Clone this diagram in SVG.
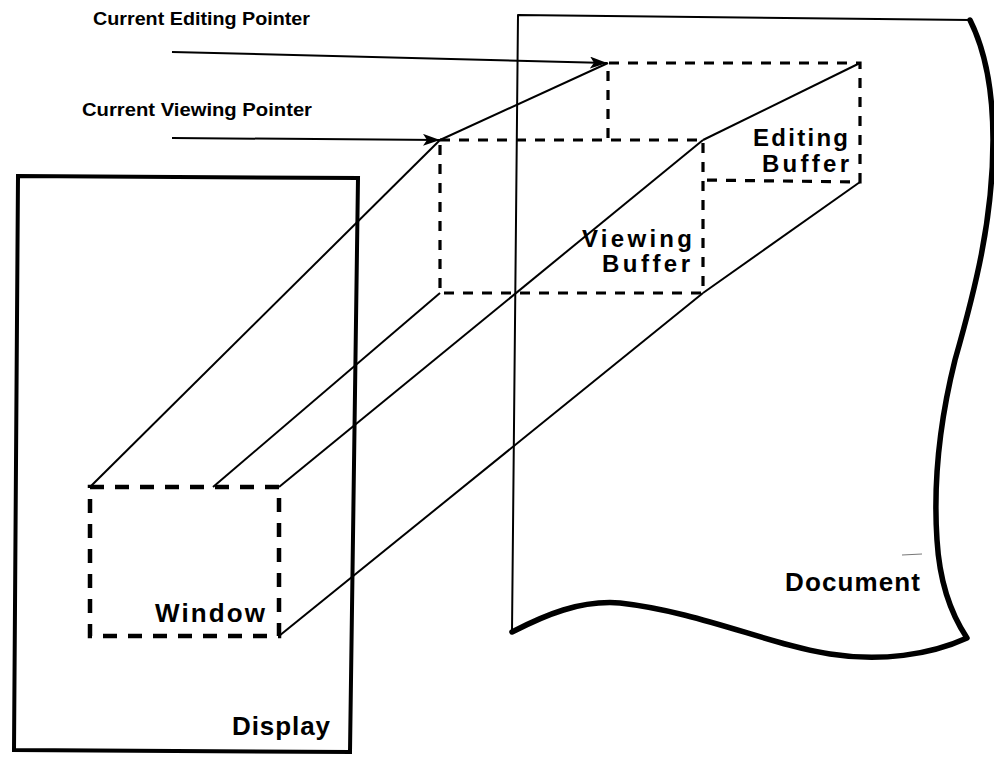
<svg xmlns="http://www.w3.org/2000/svg" width="994" height="759" viewBox="0 0 994 759">
  <style>
    .bg { fill: #ffffff; }
    .edge { fill: none; stroke: #000; stroke-linecap: round; stroke-linejoin: round; }
    .frame { fill: none; stroke: #000; stroke-width: 4; stroke-linejoin: miter; }
    .win { fill: none; stroke: #000; stroke-width: 4.5; stroke-dasharray: 14 11; }
    .buf { fill: none; stroke: #000; stroke-width: 3.2; stroke-dasharray: 10 9; }
    .ray { fill: none; stroke: #000; stroke-width: 2; }
    .label { font-family: "Liberation Sans", Arial, sans-serif; font-weight: bold; fill: #000; font-size: 26px; }
    .label2 { font-family: "Liberation Sans", Arial, sans-serif; font-weight: bold; fill: #000; font-size: 24px; }
    .ptr { font-family: "Liberation Sans", Arial, sans-serif; font-weight: bold; fill: #000; font-size: 18px; }
  </style>
  <defs>
    <marker id="head" markerUnits="userSpaceOnUse" markerWidth="18" markerHeight="12" refX="17" refY="6" orient="auto">
      <path d="M0,0 L17,6 L0,12 L4,6 Z" fill="#000"/>
    </marker>
  </defs>

  <rect class="bg" x="0" y="0" width="994" height="759"/>

  <!-- Document sheet with torn right and bottom edges -->
  <g id="document">
    <path class="edge" stroke-width="2" fill="#fff"
          d="M512,632 L518,15 L970,20 C985,50 993,90 993,140 C993,220 975,290 955,360 C940,420 933,480 937,540 C940,590 955,620 967,638 C930,655 880,662 830,654 C770,645 700,612 620,603 C580,600 545,615 512,632 Z"/>
    <path class="edge" stroke-width="5.5"
          d="M970,20 C985,50 993,90 993,140 C993,220 975,290 955,360 C940,420 933,480 937,540 C940,590 955,620 967,638 C930,655 880,662 830,654 C770,645 700,612 620,603 C580,600 545,615 512,632"/>
    <line x1="902" y1="555" x2="922" y2="554" stroke="#777" stroke-width="1"/>
    <text class="label" x="785" y="591" textLength="135" lengthAdjust="spacing">Document</text>
  </g>

  <!-- Display frame -->
  <g id="display">
    <polygon class="frame" points="18,176 358,178 350,752 14,750"/>
    <text class="label" x="232" y="735" textLength="98" lengthAdjust="spacing">Display</text>
  </g>

  <!-- Window on the display -->
  <g id="window">
    <rect class="win" x="90" y="487" width="189" height="149"/>
    <text class="label" x="155" y="622" textLength="110" lengthAdjust="spacing">Window</text>
  </g>

  <!-- Editing buffer (back box, partly hidden behind the viewing buffer) -->
  <g id="editing-buffer">
    <polyline class="buf" points="608,138 608,63 860,63 860,182 703,180"/>
    <text class="label2" x="753" y="146" textLength="95" lengthAdjust="spacing">Editing</text>
    <text class="label2" x="762" y="172" textLength="87" lengthAdjust="spacing">Buffer</text>
  </g>

  <!-- Viewing buffer -->
  <g id="viewing-buffer">
    <rect class="buf" x="440" y="140" width="263" height="153"/>
    <text class="label2" x="582" y="247" textLength="110" lengthAdjust="spacing">Viewing</text>
    <text class="label2" x="602" y="272" textLength="88" lengthAdjust="spacing">Buffer</text>
  </g>

  <!-- Pointer labels -->
  <g id="pointer-labels">
    <text class="ptr" x="93" y="25" textLength="217" lengthAdjust="spacingAndGlyphs">Current Editing Pointer</text>
    <text class="ptr" x="82" y="116" textLength="230" lengthAdjust="spacingAndGlyphs">Current Viewing Pointer</text>
  </g>

  <!-- Projection lines and pointer arrows -->
  <g id="connectors">
    <line class="ray" x1="90" y1="487" x2="440" y2="140"/>
    <line class="ray" x1="440" y1="140" x2="608" y2="63"/>
    <line class="ray" x1="213" y1="487" x2="440" y2="293"/>
    <line class="ray" x1="279" y1="487" x2="703" y2="140"/>
    <line class="ray" x1="703" y1="140" x2="860" y2="63"/>
    <line class="ray" x1="279" y1="636" x2="703" y2="293"/>
    <line class="ray" x1="703" y1="293" x2="860" y2="182"/>
    <line class="ray" x1="172" y1="52" x2="607" y2="63" marker-end="url(#head)"/>
    <line class="ray" x1="172" y1="138" x2="440" y2="140" marker-end="url(#head)"/>
  </g>
</svg>
